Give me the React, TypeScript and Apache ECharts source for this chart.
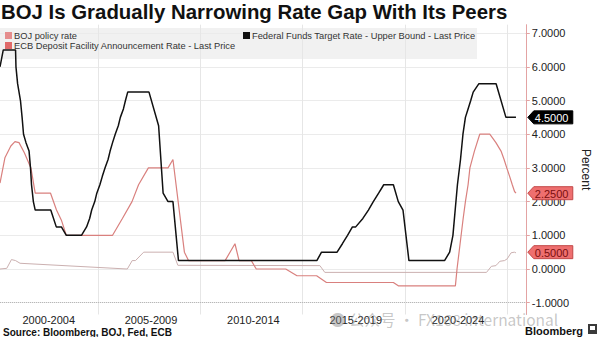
import React, { useEffect, useRef } from "react";
import * as echarts from "echarts";

const titleText = "BOJ Is Gradually Narrowing Rate Gap With Its Peers";
const sourceText = "Source: Bloomberg, BOJ, Fed, ECB";
const seriesNames = [
  "BOJ policy rate",
  "ECB Deposit Facility Announcement Rate - Last Price",
  "Federal Funds Target Rate - Upper Bound - Last Price",
];

// x labels (5-year buckets) and their centres
const xLabels = ["2000-2004", "2005-2009", "2010-2014", "2015-2019", "2020-2024"];
const xLabelPos = [2002.6, 2007.6, 2012.6, 2017.6, 2022.6];
const xGridYears = [2005, 2010, 2015, 2020, 2025];
const yTicks = [-1, 0, 1, 2, 3, 4, 5, 6, 7];

// [year, percent]
const fedData = [
  [2000.22, 6.0], [2000.38, 6.5], [2000.98, 6.5], [2001.0, 6.0], [2001.08, 5.5],
  [2001.22, 5.0], [2001.3, 4.5], [2001.37, 4.0], [2001.49, 3.75], [2001.64, 3.5],
  [2001.71, 3.0], [2001.76, 2.5], [2001.85, 2.0], [2001.94, 1.75], [2002.7, 1.75],
  [2002.97, 1.25], [2003.22, 1.25], [2003.46, 1.0], [2004.2, 1.0], [2004.45, 1.25],
  [2004.6, 1.5], [2004.7, 1.75], [2004.85, 2.0], [2004.95, 2.25], [2005.1, 2.5],
  [2005.22, 2.75], [2005.35, 3.0], [2005.5, 3.25], [2005.6, 3.5], [2005.72, 3.75],
  [2005.85, 4.0], [2006.0, 4.25], [2006.1, 4.5], [2006.25, 4.75], [2006.35, 5.0],
  [2006.46, 5.25], [2007.5, 5.25], [2007.97, 4.25], [2008.19, 2.25], [2008.43, 2.0],
  [2008.67, 2.0], [2008.94, 0.25], [2015.7, 0.25], [2015.93, 0.5], [2016.69, 0.5],
  [2016.95, 0.75], [2017.2, 1.0], [2017.44, 1.25], [2017.6, 1.25], [2017.95, 1.5],
  [2018.22, 1.75], [2018.46, 2.0], [2018.72, 2.25], [2018.97, 2.5], [2019.44, 2.5],
  [2019.68, 2.0], [2019.91, 1.75], [2020.2, 0.25], [2021.94, 0.25], [2022.19, 0.5],
  [2022.35, 1.0], [2022.46, 1.75], [2022.57, 2.5], [2022.72, 3.25], [2022.84, 4.0],
  [2022.96, 4.5], [2023.09, 4.75], [2023.22, 5.0], [2023.34, 5.25], [2023.62, 5.5],
  [2024.46, 5.5], [2024.94, 4.5], [2025.43, 4.5],
];

const ecbData = [
  [2000.22, 2.55], [2000.46, 3.3], [2000.75, 3.65], [2000.95, 3.78], [2001.15, 3.75],
  [2001.41, 3.45], [2001.73, 3.0], [2001.94, 2.25], [2002.69, 2.25], [2002.98, 1.75],
  [2003.22, 1.45], [2003.46, 1.0], [2005.72, 1.0], [2006.2, 1.5], [2006.67, 2.0],
  [2006.99, 2.5], [2007.47, 3.0], [2008.43, 3.0], [2008.67, 3.25], [2009.23, 0.5],
  [2009.43, 0.25], [2011.22, 0.25], [2011.7, 0.75], [2011.9, 0.25], [2012.5, 0.25],
  [2012.74, 0.0], [2014.18, 0.0], [2014.73, -0.2], [2015.69, -0.2], [2016.17, -0.4],
  [2019.44, -0.4], [2019.68, -0.5], [2022.47, -0.5], [2022.55, 0.0], [2022.7, 0.75],
  [2022.85, 1.5], [2022.96, 2.0], [2023.09, 2.5], [2023.18, 3.0], [2023.4, 3.5],
  [2023.66, 4.0], [2024.15, 4.0], [2024.45, 3.75], [2024.7, 3.5], [2024.85, 3.25],
  [2024.98, 3.0], [2025.12, 2.75], [2025.25, 2.5], [2025.36, 2.3], [2025.43, 2.25],
];

const bojData = [
  [2000.22, 0.0], [2000.55, 0.02], [2000.78, 0.28], [2000.98, 0.25], [2001.2, 0.17],
  [2006.44, 0.0], [2006.68, 0.25], [2006.84, 0.25], [2007.24, 0.5], [2008.67, 0.5],
  [2008.91, 0.11], [2015.85, 0.1], [2016.09, -0.1], [2023.99, -0.1], [2024.23, 0.08],
  [2024.45, 0.1], [2024.55, 0.17], [2024.65, 0.23], [2024.87, 0.25], [2025.0, 0.3],
  [2025.19, 0.48], [2025.35, 0.5], [2025.43, 0.48],
];

// last-price tags on the right axis
const tagYear = 2025.43;
const tagValues = [4.5, 2.25, 0.5];
const tagFill = ["#000000", "#ee6f6f", "#ee6f6f"];
const tagStroke = ["#000000", "#c24848", "#c24848"];
const tagText = ["#ffffff", "#7a0e0e", "#7a0e0e"];

const FONT = "Liberation Sans, Arial, sans-serif";

export default function App() {
  const ref = useRef<HTMLDivElement>(null);

  useEffect(() => {
    if (!ref.current) return;
    const chart = echarts.init(ref.current, undefined, { renderer: "svg" });

    const tagSeriesData = tagValues.map((v, i) => [tagYear, v, i]);

    chart.setOption({
      animation: false,
      backgroundColor: "#ffffff",
      textStyle: { fontFamily: FONT },
      title: [
        {
          text: titleText,
          left: 1,
          top: 2,
          padding: 0,
          textStyle: { fontSize: 20.4, fontWeight: "bold", color: "#111", fontFamily: FONT },
        },
        {
          text: sourceText,
          left: 3,
          top: 327,
          padding: 0,
          textStyle: { fontSize: 10, fontWeight: "bold", color: "#111", fontFamily: FONT },
        },
        {
          text: "Bloomberg",
          right: 17,
          top: 325,
          padding: 0,
          textStyle: { fontSize: 11, fontWeight: "bold", color: "#111", fontFamily: FONT },
        },
      ],
      legend: [
        {
          data: [
            { name: seriesNames[0], itemStyle: { color: "#e58d8d" } },
            { name: seriesNames[1], itemStyle: { color: "#e06a6a" } },
          ],
          orient: "vertical",
          left: 5,
          top: 31,
          padding: 0,
          itemGap: 1,
          itemWidth: 7,
          itemHeight: 7,
          icon: "rect",
          selectedMode: false,
          textStyle: { fontSize: 9.3, color: "#333", fontFamily: FONT, padding: [0, 0, 0, -3] },
        },
        {
          data: [{ name: seriesNames[2], itemStyle: { color: "#111" } }],
          left: 243,
          top: 31,
          padding: 0,
          itemWidth: 7,
          itemHeight: 7,
          icon: "rect",
          selectedMode: false,
          textStyle: { fontSize: 9.3, color: "#333", fontFamily: FONT, padding: [0, 0, 0, -3] },
        },
      ],
      grid: { left: 0, right: 63, top: 24.7, bottom: 22.5, containLabel: false },
      xAxis: {
        type: "value",
        min: 2000.22,
        max: 2025.91,
        axisLine: { show: false },
        axisTick: { show: false, customValues: xGridYears },
        splitLine: { show: true, lineStyle: { color: "#e6e6e6", width: 1 } },
        axisLabel: {
          customValues: xLabelPos,
          margin: 0,
          fontSize: 11,
          color: "#222",
          fontFamily: FONT,
          formatter: (v: number) => {
            const i = xLabelPos.findIndex((p) => Math.abs(p - v) < 0.01);
            return i >= 0 ? xLabels[i] : "";
          },
        },
      },
      yAxis: {
        type: "value",
        position: "right",
        min: -1.35,
        max: 7.25,
        name: "Percent",
        nameLocation: "middle",
        nameRotate: -90,
        nameGap: 50,
        nameTextStyle: { fontSize: 12, color: "#222", fontFamily: FONT },
        axisLine: { show: true, lineStyle: { color: "#e3a3a3", width: 1 } },
        axisTick: { show: true, customValues: yTicks, length: 4, lineStyle: { color: "#e3a3a3" } },
        splitLine: { show: true, lineStyle: { color: "#ebebeb", width: 1 } },
        axisLabel: {
          customValues: yTicks,
          margin: 6,
          fontSize: 11,
          color: "#222",
          fontFamily: FONT,
          formatter: (v: number) => v.toFixed(4),
        },
      },
      graphic: [
        {
          type: "rect",
          z: -10,
          shape: { x: 0, y: 28, width: 477, height: 31 },
          style: { fill: "#f1f1f1" },
        },
        {
          type: "text",
          z: 50,
          x: 330,
          y: 318.5,
          style: {
            text: "\u25CF 公众号 · FX168 international",
            fill: "rgba(130,130,130,0.45)",
            fontSize: 15.5,
            fontFamily: "Noto Sans CJK SC, " + FONT,
            verticalAlign: "middle",
          },
        },
        {
          type: "rect",
          shape: { x: 588, y: 324, width: 9, height: 10 },
          style: { fill: "#3a3a3a" },
        },
        {
          type: "rect",
          shape: { x: 590, y: 326, width: 5, height: 4 },
          style: { fill: "#ffffff" },
        },
      ],
      series: [
        {
          name: seriesNames[0],
          type: "line",
          data: bojData,
          showSymbol: false,
          color: "#e58d8d",
          lineStyle: { color: "#cbb0b0", width: 1 },
          z: 2,
        },
        {
          name: seriesNames[1],
          type: "line",
          data: ecbData,
          showSymbol: false,
          color: "#e06a6a",
          lineStyle: { color: "#d9807e", width: 1.2 },
          z: 3,
        },
        {
          name: seriesNames[2],
          type: "line",
          data: fedData,
          showSymbol: false,
          color: "#111",
          lineStyle: { color: "#111111", width: 1.5 },
          z: 4,
          markLine: {
            silent: true,
            symbol: "none",
            label: { show: false },
            lineStyle: { type: "dotted", color: "#b8b8b8", width: 1 },
            data: [{ yAxis: -1 }],
          },
        },
        {
          name: "tags",
          type: "custom",
          clip: false,
          z: 10,
          data: tagSeriesData,
          renderItem: (params: any, api: any) => {
            const pt = api.coord([api.value(0), api.value(1)]);
            const cs = params.coordSys;
            const x0 = cs.x + cs.width;
            const y = pt[1];
            const i = api.value(2);
            return {
              type: "group",
              children: [
                {
                  type: "polygon",
                  shape: {
                    points: [
                      [x0 + 2, y],
                      [x0 + 8, y - 6.5],
                      [x0 + 47, y - 6.5],
                      [x0 + 47, y + 6.5],
                      [x0 + 8, y + 6.5],
                    ],
                  },
                  style: { fill: tagFill[i], stroke: tagStroke[i], lineWidth: 1 },
                },
                {
                  type: "text",
                  x: x0 + 9,
                  y: y + 0.5,
                  style: {
                    text: Number(api.value(1)).toFixed(4),
                    fill: tagText[i],
                    fontSize: 11,
                    fontFamily: FONT,
                    verticalAlign: "middle",
                    align: "left",
                  },
                },
              ],
            };
          },
        },
      ],
    });

    return () => chart.dispose();
  }, []);

  return (
    <div
      ref={ref}
      style={{ position: "absolute", left: 0, top: 0, width: 600, height: 337, background: "#fff" }}
    />
  );
}
